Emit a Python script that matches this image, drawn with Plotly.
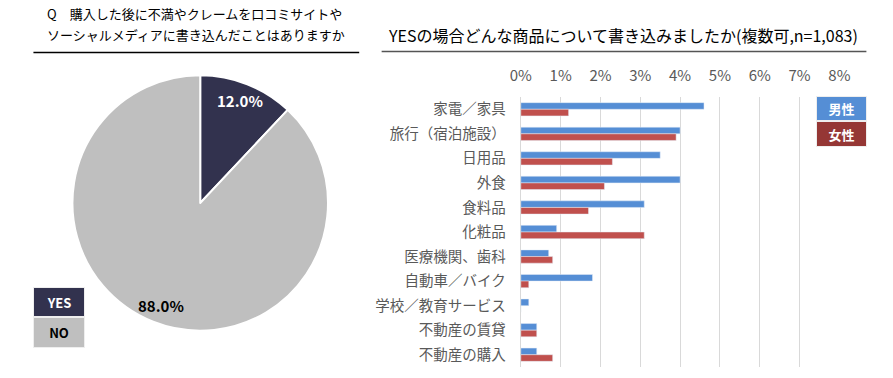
import math
import plotly.graph_objects as go

# ---------------- data ----------------
pie_labels = ["YES", "NO"]
pie_values = [12.0, 88.0]

categories = ["家電／家具", "旅行（宿泊施設）", "日用品", "外食", "食料品", "化粧品",
              "医療機関、歯科", "自動車／バイク", "学校／教育サービス", "不動産の賃貸", "不動産の購入"]
male = [4.6, 4.0, 3.5, 4.0, 3.1, 0.9, 0.7, 1.8, 0.2, 0.4, 0.4]
female = [1.2, 3.9, 2.3, 2.1, 1.7, 3.1, 0.8, 0.2, 0.0, 0.4, 0.8]
series_names = ["男性", "女性"]
x_ticks = [0, 1, 2, 3, 4, 5, 6, 7, 8]

left_title_lines = ["Q　購入した後に不満やクレームを口コミサイトや",
                    "ソーシャルメディアに書き込んだことはありますか"]
right_title = "YESの場合どんな商品について書き込みましたか(複数可,n=1,083)"

# ---------------- styling ----------------
W, H = 893, 378
FONT = "Noto Sans CJK JP"
C_YES = "#32324E"
C_NO = "#BFBFBF"
C_MALE = "#558ED5"
C_FEMALE = "#C0504D"
C_FEMALE_LEG = "#953735"

def px_x(x):
    return x / W

def px_y(y):
    return 1 - y / H

fig = go.Figure()

# pie
pie_cx, pie_cy, pie_r = 194, 203, 131
fig.add_trace(go.Pie(
    labels=pie_labels, values=pie_values,
    marker=dict(colors=[C_YES, C_NO], line=dict(color="white", width=2)),
    sort=False, direction="clockwise", rotation=0,
    textinfo="none", hoverinfo="label+percent",
    domain=dict(x=[px_x(pie_cx - pie_r), px_x(pie_cx + pie_r)],
                y=[px_y(pie_cy + pie_r), px_y(pie_cy - pie_r)]),
    showlegend=False,
))

# bars
fig.add_trace(go.Bar(y=categories, x=male, name=series_names[0], orientation="h",
                     marker=dict(color=C_MALE), showlegend=False))
fig.add_trace(go.Bar(y=categories, x=female, name=series_names[1], orientation="h",
                     marker=dict(color=C_FEMALE), showlegend=False))

annotations = []
# pie percentage labels, placed from the data
total = sum(pie_values)
cum = 0
label_colors = ["white", "black"]
for v, col in zip(pie_values, label_colors):
    mid = (cum + v / 2) / total
    cum += v
    r = 0.84 * pie_r
    ax = pie_cx + r * math.sin(2 * math.pi * mid)
    ay = pie_cy - r * math.cos(2 * math.pi * mid)
    annotations.append(dict(x=px_x(ax), y=px_y(ay), xref="paper", yref="paper",
                            text=f"<b>{v:.1f}%</b>", showarrow=False,
                            xanchor="center", yanchor="middle",
                            font=dict(family=FONT, size=15, color=col)))

# titles
for line, (cx, cy) in zip(left_title_lines, [(188, 13.5), (190, 34)]):
    annotations.append(dict(x=px_x(cx), y=px_y(cy), xref="paper", yref="paper", text=line,
                            showarrow=False, font=dict(family=FONT, size=13, color="black"),
                            xanchor="center", yanchor="middle"))
annotations.append(dict(x=px_x(627), y=px_y(35), xref="paper", yref="paper", text=right_title,
                        showarrow=False, font=dict(family=FONT, size=16, color="black"),
                        xanchor="center", yanchor="middle"))

# legend boxes
def box(label, x0, y0, x1, y1, bg, fg):
    annotations.append(dict(x=px_x((x0 + x1) / 2), y=px_y((y0 + y1) / 2), xref="paper", yref="paper",
                            text=f"<b>{label}</b>", showarrow=False, bgcolor=bg,
                            width=x1 - x0 - 2, height=y1 - y0 - 2,
                            bordercolor="#EEEEEE", borderwidth=1, borderpad=0,
                            font=dict(family=FONT, size=13, color=fg),
                            xanchor="center", yanchor="middle"))

box(pie_labels[0], 23, 287, 75, 317, C_YES, "white")
box(pie_labels[1], 23, 317, 75, 348, C_NO, "black")
box(series_names[0], 826, 96, 877, 121, C_MALE, "white")
box(series_names[1], 826, 121, 877, 147, C_FEMALE_LEG, "white")

shapes = [
    dict(type="line", xref="paper", yref="paper", x0=px_x(23), x1=px_x(357),
         y0=px_y(52.5), y1=px_y(52.5), line=dict(color="black", width=1.5)),
    dict(type="line", xref="paper", yref="paper", x0=px_x(380), x1=px_x(877),
         y0=px_y(51.5), y1=px_y(51.5), line=dict(color="#555555", width=1.5)),
]

fig.update_layout(
    width=W, height=H,
    margin=dict(l=0, r=0, t=0, b=0),
    paper_bgcolor="white", plot_bgcolor="white",
    barmode="group", bargap=0.46, bargroupgap=0,
    font=dict(family=FONT, color="#595959"),
    annotations=annotations, shapes=shapes,
    xaxis=dict(domain=[px_x(522.7), px_x(849.3)], range=[0, 8], side="top",
               tickvals=x_ticks, ticktext=[f"{t}%" for t in x_ticks],
               showgrid=True, gridcolor="#D9D9D9", gridwidth=1,
               zeroline=True, zerolinecolor="#D9D9D9", zerolinewidth=1,
               showline=False, ticks="", ticklabelstandoff=12,
               tickfont=dict(family=FONT, size=15, color="#595959"), fixedrange=True),
    yaxis=dict(domain=[px_y(367), px_y(97)], autorange="reversed",
               showgrid=False, zeroline=False, showline=False, ticks="",
               ticklabelstandoff=14,
               tickfont=dict(family=FONT, size=14.5, color="#595959"), fixedrange=True),
)

fig.write_html("out.html", config={"displayModeBar": False},
               post_script="document.body.style.margin='0';document.body.style.overflow='hidden';")
